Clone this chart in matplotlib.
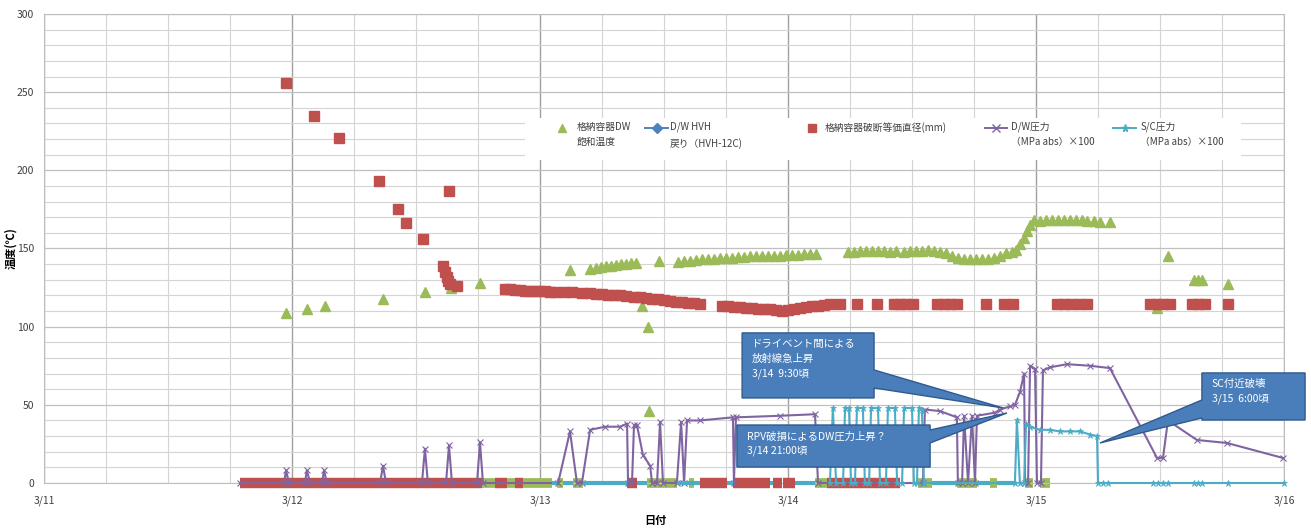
import matplotlib.pyplot as plt
from matplotlib.patches import Polygon, Rectangle
from matplotlib.lines import Line2D
from matplotlib.ticker import MultipleLocator

plt.rcParams['font.family'] = ['Noto Sans CJK JP', 'DejaVu Sans']

# time axis is the day of March as a decimal (12.5 = 3/12 12:00)
day_ticks = [11, 12, 13, 14, 15, 16]
day_labels = ['3/11', '3/12', '3/13', '3/14', '3/15', '3/16']

# 格納容器DW 飽和温度 (green triangles)
sat_t = [11.976, 12.060, 12.133, 12.367, 12.536, 12.641, 12.758, 13.121,
         13.202, 13.226, 13.246, 13.266, 13.286, 13.306, 13.327, 13.347, 13.367, 13.387,
         13.411, 13.435, 13.440, 13.480,
         13.556, 13.581, 13.605, 13.629, 13.653, 13.677, 13.702, 13.726, 13.750, 13.774,
         13.798, 13.823, 13.847, 13.871, 13.895, 13.919, 13.944, 13.968, 13.992, 14.016,
         14.040, 14.065, 14.089, 14.113,
         14.242, 14.266, 14.290, 14.315, 14.339, 14.363, 14.387, 14.411, 14.435, 14.468,
         14.492, 14.516, 14.540, 14.565, 14.589, 14.613, 14.637, 14.661, 14.685, 14.710,
         14.734, 14.758, 14.782, 14.806, 14.831, 14.855, 14.879, 14.903, 14.919, 14.935,
         14.952, 14.964, 14.976, 14.992, 15.016, 15.040, 15.065, 15.089, 15.113, 15.137,
         15.161, 15.185, 15.206, 15.234, 15.258, 15.298,
         15.488, 15.532, 15.637, 15.653, 15.669, 15.774]
sat_v = [109, 111, 113, 118, 122, 125, 128, 136,
         137, 137.5, 138, 138.5, 139, 139.5, 140, 140, 140.5, 141,
         113, 100, 46, 142,
         141.5, 142, 142, 142.5, 143, 143, 143.5, 144, 144, 144,
         144.5, 144.5, 145, 145, 145, 145.5, 145.5, 145.5, 146, 146,
         146, 146.5, 146.5, 146.5,
         148, 148, 148.5, 148.5, 148.5, 148.5, 148.5, 148, 148.5, 148,
         148.5, 148.5, 148.5, 149, 148.5, 148, 147, 145.5, 144, 143,
         143, 143, 143, 143.5, 144, 145, 147, 148, 149, 153,
         157, 161, 165, 168, 167.5, 168, 168, 168.5, 168, 168,
         168, 168, 167.5, 167.5, 167, 167,
         112, 145, 130, 130, 130, 127]

# 格納容器破断等価直径(mm) (red squares)
brk_t = [11.976, 12.089, 12.190, 12.351, 12.427, 12.460, 12.528, 12.633,
         12.609, 12.617, 12.625, 12.629, 12.637, 12.665,
         12.859, 12.879, 12.899, 12.919, 12.940, 12.960, 12.980, 13.000, 13.020, 13.040,
         13.060, 13.097, 13.129, 13.169, 13.202, 13.226, 13.250, 13.274, 13.298, 13.323,
         13.347, 13.379, 13.403, 13.427, 13.452, 13.476, 13.500, 13.524, 13.548, 13.573,
         13.597, 13.621, 13.645,
         13.734, 13.758, 13.782, 13.806, 13.831, 13.855, 13.879, 13.903, 13.927, 13.952,
         13.976, 14.000, 14.024, 14.048, 14.073, 14.097, 14.121, 14.145, 14.169,
         14.210, 14.278, 14.359, 14.427, 14.452, 14.476, 14.504, 14.601, 14.629, 14.653,
         14.681, 14.798, 14.871, 14.907, 15.085, 15.113, 15.141, 15.173, 15.206, 15.460,
         15.488, 15.512, 15.540, 15.629, 15.653, 15.681, 15.774]
brk_v = [256, 235, 221, 193, 175, 166, 156, 187,
         139, 135, 132, 129, 127, 126,
         124, 124, 123.5, 123.5, 123, 123, 123, 122.5, 122.5, 122,
         122, 122, 122, 121.5, 121.5, 121, 121, 120.5, 120, 120,
         119.5, 119, 119, 118.5, 118, 117.5, 117, 116.5, 116, 115.5,
         115, 115, 114.5,
         113, 113, 112.5, 112.5, 112, 112, 111.5, 111, 111, 110.5,
         110, 110.5, 111, 112, 112.5, 113, 113.5, 114, 114.5,
         114.5, 114.5, 114.5, 114.5, 114.5, 114.5, 114.5, 114.5, 114.5, 114.5,
         114.5, 114.5, 114.5, 114.5, 114.5, 114.5, 114.5, 114.5, 114.5, 114.5,
         114.5, 114.5, 114.5, 114.5, 114.5, 114.5, 114.5]

# D/W圧力 (MPa abs) x100 (purple)
dwp_t = [11.790, 11.968, 11.976, 11.988, 12.052, 12.060, 12.073, 12.121, 12.129, 12.141,
         12.355, 12.367, 12.379, 12.524, 12.536, 12.548, 12.621, 12.633, 12.645,
         12.746, 12.758, 12.770, 13.073, 13.121, 13.149, 13.169, 13.202, 13.262, 13.323,
         13.351, 13.355, 13.371, 13.379, 13.391, 13.415, 13.444, 13.452, 13.472, 13.484,
         13.496, 13.552, 13.569, 13.581, 13.593, 13.645, 13.778, 13.782, 13.790, 13.968,
         14.109, 14.121, 14.544, 14.552, 14.613, 14.681, 14.685, 14.702, 14.710, 14.726,
         14.742, 14.754, 14.762, 14.835, 14.855, 14.895, 14.915, 14.935, 14.952, 14.956,
         14.968, 14.976, 14.996, 15.004, 15.020, 15.028, 15.056, 15.125, 15.218, 15.298,
         15.488, 15.512, 15.532, 15.649, 15.770, 15.996]
dwp_v = [0, 0, 8, 0, 0, 8, 0, 0, 8, 0,
         0, 11, 0, 0, 22, 0, 0, 24, 0,
         0, 26, 0, 0, 33, 0, 0, 34, 36, 36,
         38, 0, 0, 37, 37, 18, 11, 0, 0, 39,
         0, 0, 39, 0, 40, 40, 42, 0, 42, 43,
         44, 0, 0, 47, 46, 42, 0, 0, 43, 0,
         43, 0, 43, 45, 47, 49, 50, 58, 70, 0,
         0, 75, 73, 0, 0, 72, 74, 76, 75, 73.5,
         16, 16, 40, 27.5, 25.6, 16]

# S/C圧力 (MPa abs) x100 (cyan)
scp_t = [14.169, 14.181, 14.194, 14.222, 14.230, 14.246, 14.254, 14.270, 14.278, 14.302,
         14.310, 14.327, 14.335, 14.363, 14.371, 14.395, 14.403, 14.431, 14.440, 14.460,
         14.468, 14.500, 14.508, 14.520, 14.528, 14.540, 14.548, 14.915, 14.923, 14.935,
         14.952, 14.960, 14.976, 15.016, 15.056, 15.097, 15.137, 15.177, 15.218, 15.246,
         15.250, 15.270, 15.290, 15.472, 15.492, 15.512, 15.532, 15.637, 15.653, 15.669,
         15.774, 16.000]
scp_v = [0, 48, 0, 0, 48, 48, 0, 0, 48, 48,
         0, 0, 48, 48, 0, 0, 48, 48, 0, 0,
         48, 48, 0, 0, 48, 47, 0, 0, 40, 0,
         0, 38, 36, 34, 34, 33, 33, 33, 31, 30,
         0, 0, 0, 0, 0, 0, 0, 0, 0, 0,
         0, 0]

# stretches where each series sits at zero (dense markers merge into a band)
brk_zero = [(11.79, 12.766), (12.819, 12.867), (12.899, 12.931), (13.351, 13.391),
            (13.645, 13.754), (13.778, 13.927), (13.94, 13.976), (13.98, 14.028),
            (14.157, 14.452)]
sat_zero = [(12.766, 12.819), (12.867, 12.899), (12.931, 13.048), (13.069, 13.093),
            (13.133, 13.173), (13.431, 13.552), (13.60, 13.62), (14.109, 14.157),
            (14.524, 14.581), (14.681, 14.762), (14.815, 14.843), (14.956, 14.988),
            (15.016, 15.056)]
scp_zero = [(13.048, 13.069), (13.093, 13.133), (13.173, 13.351), (13.391, 13.431),
            (13.552, 13.645), (13.754, 13.778), (13.927, 13.94), (14.028, 14.109),
            (14.581, 14.681), (14.762, 14.815), (14.843, 14.915)]

GREEN = '#9BBB59'
BLUE = '#4F81BD'
RED = '#C0504D'
PURPLE = '#8064A2'
CYAN = '#4BACC6'

fig = plt.figure(figsize=(13.11, 5.29), dpi=100)
ax = fig.add_axes([44 / 1311, 46 / 529, 1240 / 1311, 469 / 529])
ax.set_xlim(11, 16)
ax.set_ylim(0, 300)

ax.xaxis.set_major_locator(MultipleLocator(1))
ax.xaxis.set_minor_locator(MultipleLocator(0.25))
ax.yaxis.set_major_locator(MultipleLocator(50))
ax.yaxis.set_minor_locator(MultipleLocator(10))
ax.grid(which='minor', color='#d4d4d4', lw=0.8)
ax.grid(which='major', axis='y', color='#c0c0c0', lw=0.9)
ax.grid(which='major', axis='x', color='#a0a0a0', lw=1.0)
ax.set_axisbelow(True)
for s in ax.spines.values():
    s.set_color('#bfbfbf')
ax.tick_params(which='both', length=0)
ax.tick_params(axis='y', pad=7, labelsize=7.5, labelcolor='#404040')
ax.tick_params(axis='x', pad=9, labelsize=7.5, labelcolor='#404040')
ax.set_xticks(day_ticks)
ax.set_xticklabels(day_labels)

ax.set_xlabel('日付', fontsize=8, fontweight='bold', va='center')
ax.xaxis.set_label_coords(0.493, -0.081)
ax.set_ylabel('温度(℃)', fontsize=8, fontweight='bold', va='center')
ax.yaxis.set_label_coords(-0.0265, 0.5)

# zero bands
for a, b in sat_zero:
    ax.hlines(0, a, b, color=GREEN, lw=7, capstyle='butt', clip_on=False, zorder=2)
for a, b in brk_zero:
    ax.hlines(0, a, b, color=RED, lw=7.5, capstyle='butt', clip_on=False, zorder=3)
for a, b in scp_zero:
    ax.hlines(0, a, b, color=CYAN, lw=3, capstyle='butt', clip_on=False, zorder=5)

ax.plot(sat_t, sat_v, ls='none', marker='^', ms=6.5, color=GREEN, zorder=2, clip_on=False)
ax.plot(brk_t, brk_v, ls='none', marker='s', ms=6.5, color=RED, zorder=3, clip_on=False)
ax.plot(dwp_t, dwp_v, color=PURPLE, lw=1.5, marker='x', ms=4, mew=0.8, zorder=4,
        clip_on=False)
ax.plot(scp_t, scp_v, color=CYAN, lw=1.5, marker='*', ms=4.5, mew=0.5, zorder=5,
        clip_on=False)

# legend drawn by hand so the two-line labels sit like the original
ax.add_patch(Rectangle((0.388, 0.689), 0.577, 0.089, transform=ax.transAxes,
                       facecolor='white', edgecolor='none', zorder=8))
leg_y = 0.757
entries = [
    (GREEN, '^', None, 0.418, 0.430, '格納容器DW\n飽和温度'),
    (BLUE, 'D', (0.485, 0.503), 0.494, 0.505, 'D/W HVH\n戻り（HVH-12C)'),
    (RED, 's', None, 0.619, 0.630, '格納容器破断等価直径(mm)'),
    (PURPLE, 'x', (0.759, 0.777), 0.768, 0.780, 'D/W圧力\n（MPa abs）×100'),
    (CYAN, '*', (0.862, 0.881), 0.872, 0.884, 'S/C圧力\n（MPa abs）×100'),
]
for color, marker, seg, mx, tx, label in entries:
    if seg is not None:
        ax.add_line(Line2D(seg, [leg_y, leg_y], color=color, lw=1.4,
                           transform=ax.transAxes, zorder=9))
    ax.add_line(Line2D([mx], [leg_y], color=color, marker=marker, ms=5.5, mew=1,
                       transform=ax.transAxes, zorder=9))
    ax.text(tx, leg_y + 0.013, label, transform=ax.transAxes, fontsize=7,
            va='top', ha='left', linespacing=1.6, color='#404040', zorder=9)

# callout boxes: (x0, x1, y_bottom, y_top, side, wedge_lo, wedge_hi, tip, text)
callouts = [
    (13.794, 14.573, 10.2, 37.1, 'right', 25.6, 33.9, (14.883, 44.8),
     'RPV破損によるDW圧力上昇？\n3/14 21:00頃'),
    (13.815, 14.347, 54.4, 96.0, 'right', 60.8, 72.3, (14.867, 48.0),
     'ドライベント間による\n放射線急上昇\n3/14  9:30頃'),
    (15.669, 16.085, 40.3, 70.4, 'left', 41.6, 53.1, (15.258, 25.6),
     'SC付近破壊\n3/15  6:00頃'),
]
for x0, x1, yb, yt, side, wlo, whi, tip, text in callouts:
    if side == 'right':
        pts = [(x0, yb), (x1, yb), (x1, wlo), tip, (x1, whi), (x1, yt), (x0, yt)]
    else:
        pts = [(x0, yb), (x1, yb), (x1, yt), (x0, yt), (x0, whi), tip, (x0, wlo)]
    ax.add_patch(Polygon(pts, closed=True, facecolor='#4A7EBB', edgecolor='#2F5A8E',
                         lw=1.0, zorder=10, clip_on=False))
    ax.text(x0 + 0.04, yt - 4, text, fontsize=7.5, color='white', va='top', ha='left',
            linespacing=1.55, zorder=11)

fig.savefig('out.png', dpi=100)
